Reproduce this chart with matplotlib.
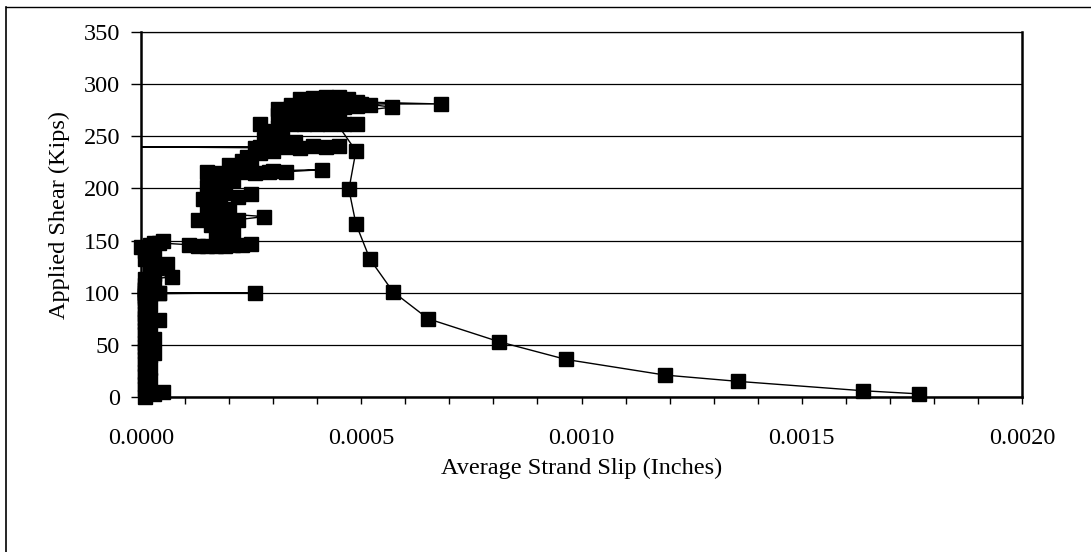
import matplotlib
matplotlib.use("Agg")
import matplotlib.pyplot as plt
from matplotlib.lines import Line2D
from matplotlib.ticker import MultipleLocator, FormatStrFormatter

plt.rcParams['font.family'] = ['Liberation Serif', 'DejaVu Serif']

# load path: average strand slip (in) vs applied shear (kips), in test order
slip = [
    # up to 150 kips, slip stays near zero
    0.00001, 0.00003, 0.00005, 0.00002, 0.00001, 0.00001, 0.00002, 0.00001,
    0.00001, 0.00002, 0.00001, 0.00001, 0.00002, 0.00001, 0.00003, 0.00001,
    0.00001, 0.00002, 0.00003, 0.00001, 0.00001, 0.00002, 0.00001, 0.00004,
    0.00001, 0.00001, 0.00001, 0.00002, 0.00001, 0.00001, 0.00001, 0.00004,
    0.00001, 0.00001, 0.00002, 0.00001, 0.00001, 0.00001, 0.00004, 0.00026,
    0.00002, 0.00001, 0.00003, 0.00001, 0.00007, 0.00003, 0.00002, 0.00006,
    0.00004, 0.00001, 0.00003, 0.00001, 0.00000, 0.00002, 0.00004, 0.00005,
    0.00003,
    # 145 - 230 kips
    0.00011, 0.00013, 0.00015, 0.00017, 0.00019, 0.00021, 0.00023, 0.00025,
    0.00018, 0.00020, 0.00017, 0.00021, 0.00018, 0.00016, 0.00020, 0.00013,
    0.00016, 0.00019, 0.00022, 0.00028, 0.00018, 0.00015, 0.00020, 0.00016,
    0.00014, 0.00018, 0.00022, 0.00025, 0.00019, 0.00017, 0.00015, 0.00018,
    0.00021, 0.00018, 0.00016, 0.00015, 0.00017, 0.00020, 0.00023, 0.00026,
    0.00029, 0.00033, 0.00041, 0.00030, 0.00024, 0.00020, 0.00023, 0.00025,
    0.00024, 0.00027, 0.00026,
    # 240 kips band
    -0.00005, 0.00027, 0.00030, 0.00033, 0.00036, 0.00039, 0.00042, 0.00045,
    0.00030, 0.00035, 0.00028, 0.00032,
    # 255 - 290 kips
    0.00027, 0.00029, 0.00031, 0.00034, 0.00037, 0.00040, 0.00043, 0.00046,
    0.00049, 0.00033, 0.00036, 0.00031, 0.00034, 0.00038, 0.00041, 0.00043,
    0.00031, 0.00034, 0.00037, 0.00040, 0.00043, 0.00046, 0.00049, 0.00052,
    0.00034, 0.00037, 0.00040, 0.00043, 0.00046, 0.00049, 0.00068, 0.00050,
    0.00036, 0.00039, 0.00042, 0.00045, 0.00047, 0.00043, 0.00057, 0.00045,
    0.00044,
    # unloading
    0.000488, 0.000472, 0.000488, 0.00052, 0.000572, 0.000652, 0.000813,
    0.000965, 0.00119, 0.001355, 0.001639, 0.001766,
]
shear = [
    0, 3, 5, 5, 8, 12, 16, 20,
    24, 28, 32, 36, 40, 44, 42, 48,
    52, 56, 56, 60, 64, 68, 72, 74,
    76, 80, 84, 88, 92, 95, 97, 100,
    103, 107, 111, 100, 98, 100, 100, 100,
    99, 104, 109, 113, 115, 118, 122, 128,
    125, 132, 136, 140, 144, 146, 148, 150,
    148,
    146, 145, 145, 145, 145, 146, 146, 147,
    150, 152, 156, 158, 162, 165, 168, 170,
    172, 171, 170, 173, 176, 178, 180, 185,
    190, 188, 192, 195, 196, 198, 201, 205,
    208, 211, 214, 216, 215, 215, 216, 215,
    216, 216, 218, 217, 220, 222, 226, 228,
    230, 234, 239,
    240, 240, 242, 240, 239, 241, 240, 241,
    236, 245, 247, 250,
    262, 255, 258, 262, 262, 262, 262, 262,
    262, 265, 268, 270, 270, 272, 272, 273,
    276, 277, 276, 277, 278, 278, 279, 280,
    280, 283, 283, 284, 283, 283, 281, 281,
    286, 287, 288, 288, 286, 285, 278, 272,
    265,
    236, 199, 166, 132, 101, 75, 53,
    36, 21, 15, 6, 3,
]

fig = plt.figure(figsize=(10.91, 5.52), dpi=100)
ax = fig.add_axes([0.1292, 0.2808, 0.8076, 0.6612])

shown = [i for i, x in enumerate(slip) if x >= 0]
ax.plot(slip, shear, color='black', lw=1.0, zorder=3)
ax.plot(slip, shear, linestyle='none', marker='s', markersize=9.5,
        markerfacecolor='black', markeredgecolor='black', markevery=shown,
        clip_on=False, zorder=4)

ax.set_xlim(0, 0.002)
ax.set_ylim(0, 350)
ax.xaxis.set_major_locator(MultipleLocator(0.0005))
ax.xaxis.set_minor_locator(MultipleLocator(0.0001))
ax.xaxis.set_major_formatter(FormatStrFormatter('%.4f'))
ax.yaxis.set_major_locator(MultipleLocator(50))

ax.grid(axis='y', color='black', lw=0.9)
ax.set_axisbelow(True)

for side in ['left', 'bottom', 'right']:
    ax.spines[side].set_linewidth(1.8)
ax.spines['top'].set_linewidth(0.9)

ax.tick_params(axis='y', which='major', direction='out', length=7,
               width=1.0, labelsize=17.5, pad=8)
ax.tick_params(axis='x', which='major', direction='out', length=5,
               width=1.0, labelsize=17.5, pad=17.5)
ax.tick_params(axis='x', which='minor', direction='out', length=5, width=1.0)

ax.set_xlabel('Average Strand Slip (Inches)', fontsize=17.5, labelpad=6)
ax.set_ylabel('Applied Shear (Kips)', fontsize=17.5, labelpad=10)

# outer chart frame (top and left edges visible in the scan)
fig.add_artist(Line2D([0.0055, 1.0], [0.987, 0.987], transform=fig.transFigure,
                      color='black', lw=1.0))
fig.add_artist(Line2D([0.0055, 0.0055], [0.0, 0.987], transform=fig.transFigure,
                      color='black', lw=1.2))

fig.savefig('out.png', dpi=100)
